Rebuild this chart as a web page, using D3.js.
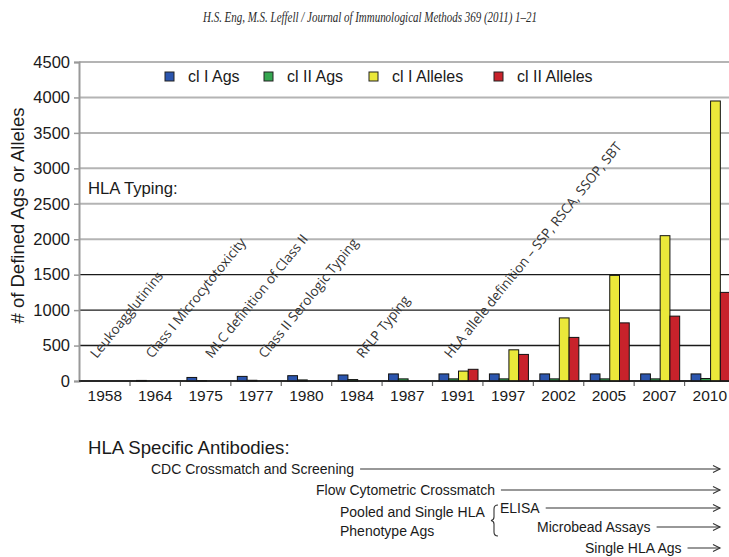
<!DOCTYPE html>
<html>
<head>
<meta charset="utf-8">
<script src="https://cdn.jsdelivr.net/npm/d3@7"></script>
<style>
  body { margin: 0; background: white; }
  svg { display: block; }
</style>
</head>
<body>
<div id="chart"></div>
<script>
// values
const years = ["1958", "1964", "1975", "1977", "1980", "1984", "1987", "1991", "1997", "2002", "2005", "2007", "2010"];
const clIAgs = [0, 8, 50, 65, 75, 85, 100, 100, 100, 100, 100, 100, 100];
const clIIAgs = [0, 0, 5, 10, 15, 20, 30, 30, 30, 30, 30, 30, 35];
const clIAlleles = [0, 0, 0, 0, 0, 0, 0, 140, 440, 890, 1490, 2050, 3950];
const clIIAlleles = [0, 0, 0, 0, 0, 0, 0, 165, 375, 615, 820, 915, 1250];
const seriesNames = ["cl I Ags", "cl II Ags", "cl I Alleles", "cl II Alleles"];
const seriesColors = ["#2b55ae", "#35a650", "#ebe83a", "#c8222b"];
const yTicks = [0, 500, 1000, 1500, 2000, 2500, 3000, 3500, 4000, 4500];

const typingEvents = [
  { year: "1958", label: "Leukoagglutinins", dx: -8 },
  { year: "1964", label: "Class I Microcytotoxicity", dx: -3 },
  { year: "1975", label: "MLC definition of Class II", dx: 6 },
  { year: "1977", label: "Class II Serologic Typing", dx: 9 },
  { year: "1984", label: "RFLP Typing", dx: 6 },
  { year: "1991", label: "HLA allele definition \u2013 SSP, RSCA, SSOP, SBT", dx: -7 }
];

const antibodyTitle = "HLA Specific Antibodies:";
const antibodyRows = [
  { label: "CDC Crossmatch and Screening", x: 151, y: 469 },
  { label: "Flow Cytometric Crossmatch", x: 316, y: 490 },
  { label: "ELISA", x: 500, y: 508 },
  { label: "Microbead Assays", x: 537, y: 527 },
  { label: "Single HLA Ags", x: 585, y: 548 }
];

const W = 729, H = 557;
const SANS = "'Liberation Sans', Arial, Helvetica, sans-serif";
const series = [clIAgs, clIIAgs, clIAlleles, clIIAlleles];

const svg = d3.select("#chart").append("svg")
  .attr("width", W)
  .attr("height", H)
  .style("background", "white");

// page header
svg.append("text")
  .attr("x", 370).attr("y", 22)
  .attr("text-anchor", "middle")
  .attr("textLength", 334)
  .attr("lengthAdjust", "spacingAndGlyphs")
  .style("font-family", "'Liberation Serif', serif")
  .style("font-style", "italic")
  .style("font-size", "14px")
  .style("fill", "#2a2a2a")
  .text("H.S. Eng, M.S. Leffell / Journal of Immunological Methods 369 (2011) 1\u201321");

const x0 = d3.scaleBand().domain(years).range([79.6, 735]);
const x1 = d3.scaleBand().domain(d3.range(4)).range([6.5, 45.5]);
const y = d3.scaleLinear().domain([0, 4500]).range([381, 62]);

const plot = svg.append("g");

// grid lines: upper ones grey, lower ones dark as in the scan
plot.append("g").selectAll("line")
  .data(yTicks)
  .join("line")
    .attr("x1", 79).attr("x2", W)
    .attr("y1", d => y(d)).attr("y2", d => y(d))
    .attr("stroke", d => d >= 2000 ? "#b4b4b4" : "#1a1a1a")
    .attr("stroke-width", d => d >= 2000 ? 2 : 1.4);

// y axis
const yAxis = plot.append("g")
  .attr("transform", "translate(79,0)")
  .call(d3.axisLeft(y).tickValues(yTicks).tickFormat(d3.format("d")).tickSize(5).tickPadding(4));
yAxis.select(".domain").attr("stroke", "#999").attr("stroke-width", 2);
yAxis.selectAll(".tick line").attr("stroke", "#999").attr("stroke-width", 1.5);
yAxis.selectAll("text")
  .style("font-family", SANS)
  .style("font-size", "16.5px")
  .style("fill", "#1a1a1a");

// x axis
const xAxis = plot.append("g")
  .attr("transform", "translate(0,381)")
  .call(d3.axisBottom(x0).tickSize(0).tickPadding(9));
xAxis.select(".domain").remove();
xAxis.selectAll("text")
  .style("font-family", SANS)
  .style("font-size", "15.5px")
  .style("fill", "#1a1a1a");
plot.append("g").selectAll("line")
  .data(years.slice(1))
  .join("line")
    .attr("x1", d => x0(d)).attr("x2", d => x0(d))
    .attr("y1", 381).attr("y2", 386)
    .attr("stroke", "#666").attr("stroke-width", 1.2);

// bars
const groups = plot.append("g").selectAll("g")
  .data(years)
  .join("g")
    .attr("transform", d => `translate(${x0(d)},0)`);
groups.selectAll("rect")
  .data((d, i) => series.map((s, k) => ({ k, v: s[i] })).filter(e => e.v > 0))
  .join("rect")
    .attr("x", e => x1(e.k))
    .attr("width", x1.bandwidth())
    .attr("y", e => y(e.v))
    .attr("height", e => y(0) - y(e.v))
    .attr("fill", e => seriesColors[e.k])
    .attr("stroke", "#111")
    .attr("stroke-width", 1);

// zero line
plot.append("line")
  .attr("x1", 79).attr("x2", W)
  .attr("y1", y(0)).attr("y2", y(0))
  .attr("stroke", "#1a1a1a").attr("stroke-width", 1.5);

// y title
svg.append("text")
  .attr("transform", `translate(24,${(y(0) + y(4500)) / 2 - 6}) rotate(-90)`)
  .attr("text-anchor", "middle")
  .style("font-family", SANS)
  .style("font-size", "18.5px")
  .style("fill", "#1a1a1a")
  .text("# of Defined Ags or Alleles");

// legend
const legendX = [165, 264, 369, 494];
const legend = svg.append("g").selectAll("g")
  .data(seriesNames)
  .join("g")
    .attr("transform", (d, i) => `translate(${legendX[i]},72)`);
legend.append("rect")
  .attr("width", 9).attr("height", 9)
  .attr("fill", (d, i) => seriesColors[i])
  .attr("stroke", "#222");
legend.append("text")
  .attr("x", 23).attr("y", 10)
  .style("font-family", SANS)
  .style("font-size", "16px")
  .style("fill", "#1a1a1a")
  .text(d => d);

// HLA typing annotations
svg.append("text")
  .attr("x", 88).attr("y", 194)
  .style("font-family", SANS)
  .style("font-size", "16.7px")
  .style("fill", "#1a1a1a")
  .text("HLA Typing:");

svg.append("g").selectAll("text")
  .data(typingEvents)
  .join("text")
    .attr("transform", d => `translate(${x0(d.year) + x0.bandwidth() / 2 + d.dx},359) rotate(-51)`)
    .style("font-family", "'Open Sans', sans-serif")
    .style("font-size", "13.5px")
    .style("fill", "#333")
    .text(d => d.label);

// HLA specific antibodies
svg.append("text")
  .attr("x", 88).attr("y", 454)
  .style("font-family", SANS)
  .style("font-size", "18.6px")
  .style("fill", "#1a1a1a")
  .text(antibodyTitle);

const arrowEnd = 720;
const rows = svg.append("g").selectAll("g")
  .data(antibodyRows)
  .join("g");
rows.append("text")
  .attr("x", d => d.x).attr("y", d => d.y + 5)
  .style("font-family", SANS)
  .style("font-size", "14px")
  .style("fill", "#1a1a1a")
  .text(d => d.label);
rows.each(function(d) {
  const g = d3.select(this);
  const tw = g.select("text").node().getComputedTextLength();
  g.append("line")
    .attr("x1", d.x + tw + 6).attr("x2", arrowEnd)
    .attr("y1", d.y).attr("y2", d.y)
    .attr("stroke", "#333").attr("stroke-width", 1.1);
  g.append("path")
    .attr("d", `M${arrowEnd - 7},${d.y - 3.5}L${arrowEnd},${d.y}L${arrowEnd - 7},${d.y + 3.5}`)
    .attr("fill", "none")
    .attr("stroke", "#333").attr("stroke-width", 1.1);
});

// pooled / phenotype label and brace
const pooled = svg.append("g")
  .style("font-family", SANS)
  .style("font-size", "14px")
  .style("fill", "#1a1a1a");
pooled.append("text").attr("x", 340).attr("y", 517).text("Pooled and Single HLA");
pooled.append("text").attr("x", 340).attr("y", 536).text("Phenotype Ags");
svg.append("path")
  .attr("d", "M498,505 Q494,505 494,509 L494,517 Q494,520 491,520.5 Q494,521 494,524 L494,532 Q494,536 498,536")
  .attr("fill", "none")
  .attr("stroke", "#333")
  .attr("stroke-width", 1.1);
</script>
</body>
</html>
